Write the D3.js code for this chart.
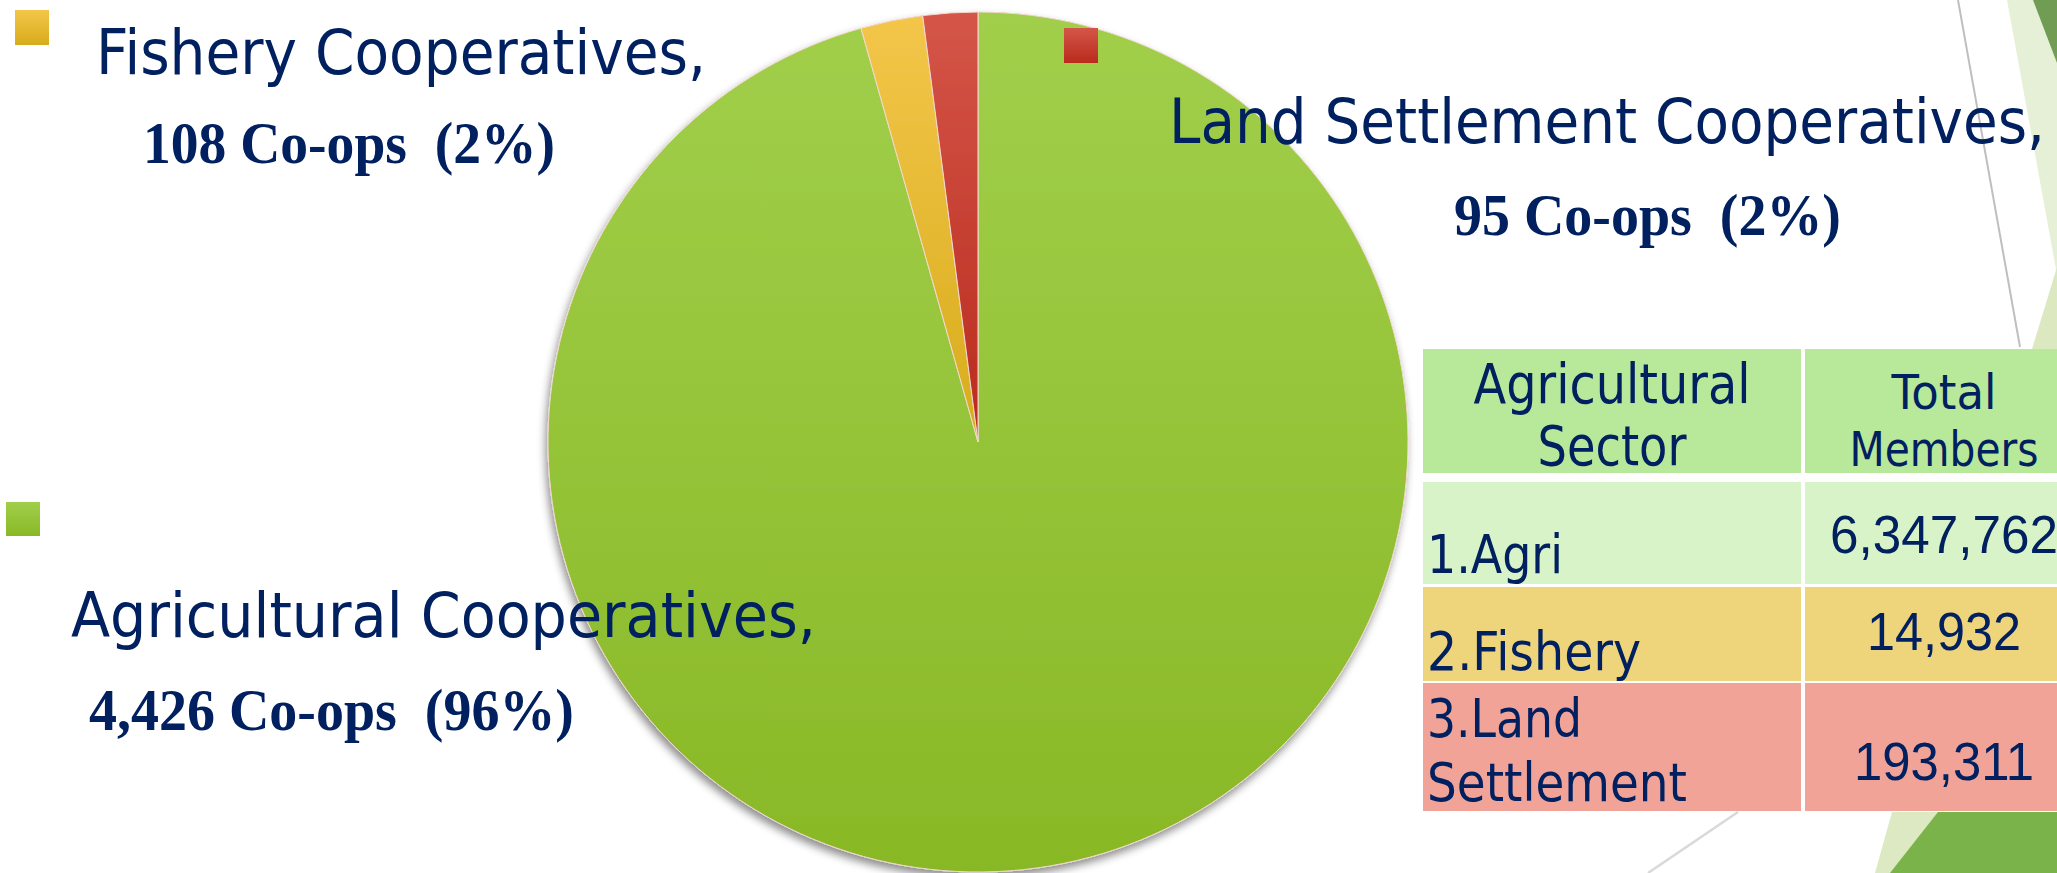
<!DOCTYPE html>
<html>
<head>
<meta charset="utf-8">
<script src="https://cdn.jsdelivr.net/npm/d3@7"></script>
<style>
  html, body { margin: 0; padding: 0; background: #ffffff; overflow: hidden; }
</style>
</head>
<body>
<div id="chart-container"></div>
<script>
// Data
const sectors = ["Agricultural Cooperatives", "Fishery Cooperatives", "Land Settlement Cooperatives"];
const coops = [4426, 108, 95];
const shares = ["96%", "2%", "2%"];
const tableHeader = [["Agricultural", "Sector"], ["Total", "Members"]];
const tableSectors = [["1.Agri"], ["2.Fishery"], ["3.Land", "Settlement"]];
const members = [6347762, 14932, 193311];

const width = 2057;
const height = 873;
const navy = "#002060";

// Gradient colours for slices (top, bottom)
const sliceColors = [["#a1cf4b", "#89b826"], ["#f3c64a", "#d7ac1b"], ["#d45648", "#b92b1d"]];
const rowColors = ["#d9f3c8", "#eed47b", "#f2a398"];

const svg = d3.select("#chart-container")
    .append("svg")
    .attr("width", width)
    .attr("height", height)
    .style("display", "block");

const defs = svg.append("defs");
sliceColors.forEach((c, i) => {
    const g = defs.append("linearGradient")
        .attr("id", "grad" + i)
        .attr("x1", 0).attr("y1", 0).attr("x2", 0).attr("y2", 1);
    g.append("stop").attr("offset", "0%").attr("stop-color", c[0]);
    g.append("stop").attr("offset", "100%").attr("stop-color", c[1]);
});
const shadow = defs.append("filter").attr("id", "shadow")
    .attr("x", "-10%").attr("y", "-10%").attr("width", "120%").attr("height", "120%");
shadow.append("feDropShadow")
    .attr("dx", -2).attr("dy", 5).attr("stdDeviation", 4)
    .attr("flood-color", "#000").attr("flood-opacity", 0.45);

// Theme decorations on the right
const deco = svg.append("g");
deco.append("polygon").attr("points", "2007,0 2057,0 2057,275").attr("fill", "#e6f0d6");
deco.append("polygon").attr("points", "2032,349 2057,267 2057,349").attr("fill", "#dce9c0");
deco.append("polygon").attr("points", "2033,0 2057,0 2057,63").attr("fill", "#709d53");
deco.append("line").attr("x1", 1958).attr("y1", 0).attr("x2", 2020).attr("y2", 347)
    .attr("stroke", "#bfbfbf").attr("stroke-width", 2);
deco.append("line").attr("x1", 1738).attr("y1", 812).attr("x2", 1648).attr("y2", 873)
    .attr("stroke", "#d9d9d9").attr("stroke-width", 2.5);
deco.append("polygon").attr("points", "1892,812 2057,812 2057,873 1875,873").attr("fill", "#dde9c2");
deco.append("polygon").attr("points", "1938,812 2057,812 2057,873 1890,873").attr("fill", "#7ab34a");

// Pie
const cx = 978, cy = 442, radius = 430;
const pie = d3.pie().sort(null).value((d) => d);
const arc = d3.arc().innerRadius(0).outerRadius(radius);

const pieG = svg.append("g")
    .attr("transform", `translate(${cx}, ${cy})`)
    .attr("filter", "url(#shadow)");

pieG.selectAll("path")
    .data(pie(coops))
    .enter()
    .append("path")
    .attr("d", arc)
    .attr("fill", (d, i) => `url(#grad${i})`)
    .attr("stroke", "#f4d8d0")
    .attr("stroke-width", 1);

// Labels (legend square + name + count)
const labelLayout = [
    { sq: [6, 502, 34, 34], name: [71, 637, 745], count: [89, 730, 485] },
    { sq: [15, 10, 34, 35], name: [96, 74, 610], count: [143, 163, 412] },
    { sq: [1064, 28, 34, 35], name: [1169, 143, 876], count: [1454, 235, 387] }
];

const labels = svg.append("g");
sectors.forEach((s, i) => {
    const L = labelLayout[i];
    labels.append("rect")
        .attr("x", L.sq[0]).attr("y", L.sq[1])
        .attr("width", L.sq[2]).attr("height", L.sq[3])
        .attr("fill", `url(#grad${i})`);
    labels.append("text")
        .attr("x", L.name[0]).attr("y", L.name[1])
        .attr("textLength", L.name[2]).attr("lengthAdjust", "spacingAndGlyphs")
        .style("font-family", "'DejaVu Sans', sans-serif")
        .style("font-size", "63px")
        .attr("fill", navy)
        .text(s + ",");
    labels.append("text")
        .attr("x", L.count[0]).attr("y", L.count[1])
        .attr("textLength", L.count[2]).attr("lengthAdjust", "spacingAndGlyphs")
        .style("font-family", "'Liberation Serif', 'Times New Roman', serif")
        .style("font-weight", "bold")
        .style("font-size", "60px")
        .attr("fill", navy)
        .text(`${d3.format(",")(coops[i])} Co-ops\u00a0\u00a0(${shares[i]})`);
});

// Table
const colX = [1423, 1805];
const colW = [378, 280];
const rowY = [349, 482, 587, 683];
const rowH = [124, 102, 94, 128];
const table = svg.append("g");

// header
colX.forEach((x, c) => {
    table.append("rect")
        .attr("x", x).attr("y", rowY[0]).attr("width", colW[c]).attr("height", rowH[0])
        .attr("fill", "#b8e899");
});
const headerText = [
    { x: 1612, ys: [403, 465], ws: [277, 149], size: 55 },
    { x: 1944, ys: [409, 466], ws: [105, 189], size: 48 }
];
tableHeader.forEach((lines, c) => {
    const H = headerText[c];
    lines.forEach((t, k) => {
        table.append("text")
            .attr("x", H.x).attr("y", H.ys[k])
            .attr("text-anchor", "middle")
            .attr("textLength", H.ws[k]).attr("lengthAdjust", "spacingAndGlyphs")
            .style("font-family", "'DejaVu Sans', sans-serif")
            .style("font-size", H.size + "px")
            .attr("fill", navy)
            .text(t);
    });
});

// body rows
const rowText = [
    { ys: [573], ws: [136], num: 553, nw: 228 },
    { ys: [670], ws: [214], num: 650, nw: 154 },
    { ys: [737, 801], ws: [155, 260], num: 780, nw: 180 }
];
tableSectors.forEach((lines, r) => {
    const y = rowY[r + 1], h = rowH[r + 1];
    colX.forEach((x, c) => {
        table.append("rect")
            .attr("x", x).attr("y", y).attr("width", colW[c]).attr("height", h)
            .attr("fill", rowColors[r]);
    });
    lines.forEach((t, k) => {
        table.append("text")
            .attr("x", 1427).attr("y", rowText[r].ys[k])
            .attr("textLength", rowText[r].ws[k]).attr("lengthAdjust", "spacingAndGlyphs")
            .style("font-family", "'DejaVu Sans', sans-serif")
            .style("font-size", "53px")
            .attr("fill", navy)
            .text(t);
    });
    table.append("text")
        .attr("x", 1944).attr("y", rowText[r].num)
        .attr("text-anchor", "middle")
        .attr("textLength", rowText[r].nw).attr("lengthAdjust", "spacingAndGlyphs")
        .style("font-family", "'Liberation Sans', Arial, sans-serif")
        .style("font-size", "53px")
        .attr("fill", navy)
        .text(d3.format(",")(members[r]));
});
</script>
</body>
</html>
